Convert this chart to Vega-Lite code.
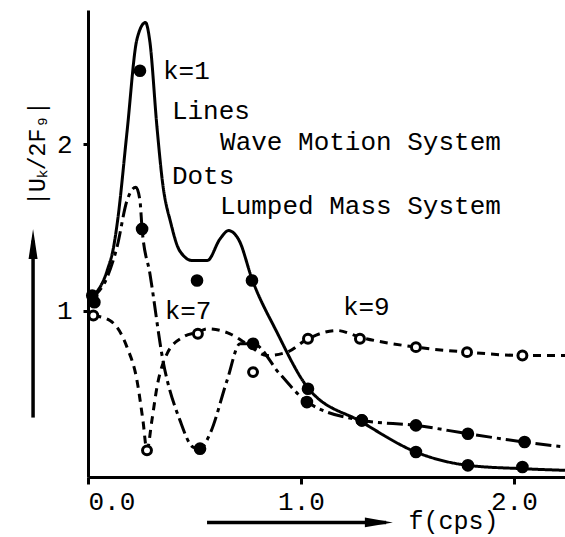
{
  "$schema": "https://vega.github.io/schema/vega-lite/v6.json",
  "width": 477,
  "height": 467,
  "autosize": "none",
  "padding": {"left": 88, "top": 10, "right": 0, "bottom": 60},
  "background": "white",
  "config": {
    "view": {"stroke": null},
    "font": "Liberation Mono",
    "axis": {"grid": false, "domainColor": "black", "domainWidth": 3, "tickColor": "black", "tickWidth": 3, "labelColor": "black", "labelFont": "Liberation Mono", "labelFontSize": 26, "titleFont": "Liberation Mono", "titleFontWeight": "normal", "titleColor": "black"}
  },
  "datasets": {
    "lines": [
      {"k": "k=1", "f": 0.01, "u": 1.07}, {"k": "k=1", "f": 0.09, "u": 1.24}, {"k": "k=1", "f": 0.12, "u": 1.38}, {"k": "k=1", "f": 0.14, "u": 1.55}, {"k": "k=1", "f": 0.183, "u": 2.07}, {"k": "k=1", "f": 0.23, "u": 2.63}, {"k": "k=1", "f": 0.27, "u": 2.73}, {"k": "k=1", "f": 0.29, "u": 2.62}, {"k": "k=1", "f": 0.324, "u": 2.1}, {"k": "k=1", "f": 0.35, "u": 1.77}, {"k": "k=1", "f": 0.39, "u": 1.52}, {"k": "k=1", "f": 0.43, "u": 1.36}, {"k": "k=1", "f": 0.49, "u": 1.3}, {"k": "k=1", "f": 0.56, "u": 1.3}, {"k": "k=1", "f": 0.62, "u": 1.43}, {"k": "k=1", "f": 0.66, "u": 1.48}, {"k": "k=1", "f": 0.71, "u": 1.42}, {"k": "k=1", "f": 0.77, "u": 1.19}, {"k": "k=1", "f": 0.887, "u": 0.87}, {"k": "k=1", "f": 1.03, "u": 0.54}, {"k": "k=1", "f": 1.286, "u": 0.33}, {"k": "k=1", "f": 1.54, "u": 0.15}, {"k": "k=1", "f": 1.784, "u": 0.07}, {"k": "k=1", "f": 2.04, "u": 0.05}, {"k": "k=1", "f": 2.24, "u": 0.04},
      {"k": "k=7", "f": 0.01, "u": 1.07}, {"k": "k=7", "f": 0.09, "u": 1.2}, {"k": "k=7", "f": 0.136, "u": 1.38}, {"k": "k=7", "f": 0.183, "u": 1.66}, {"k": "k=7", "f": 0.225, "u": 1.74}, {"k": "k=7", "f": 0.244, "u": 1.66}, {"k": "k=7", "f": 0.254, "u": 1.49}, {"k": "k=7", "f": 0.291, "u": 1.22}, {"k": "k=7", "f": 0.352, "u": 0.7}, {"k": "k=7", "f": 0.432, "u": 0.34}, {"k": "k=7", "f": 0.493, "u": 0.18}, {"k": "k=7", "f": 0.526, "u": 0.17}, {"k": "k=7", "f": 0.573, "u": 0.26}, {"k": "k=7", "f": 0.653, "u": 0.58}, {"k": "k=7", "f": 0.714, "u": 0.8}, {"k": "k=7", "f": 0.775, "u": 0.8}, {"k": "k=7", "f": 0.9, "u": 0.62}, {"k": "k=7", "f": 1.03, "u": 0.45}, {"k": "k=7", "f": 1.286, "u": 0.34}, {"k": "k=7", "f": 1.54, "u": 0.31}, {"k": "k=7", "f": 1.784, "u": 0.26}, {"k": "k=7", "f": 2.05, "u": 0.21}, {"k": "k=7", "f": 2.24, "u": 0.18},
      {"k": "k=9", "f": 0.025, "u": 0.97}, {"k": "k=9", "f": 0.103, "u": 0.94}, {"k": "k=9", "f": 0.183, "u": 0.78}, {"k": "k=9", "f": 0.23, "u": 0.58}, {"k": "k=9", "f": 0.258, "u": 0.34}, {"k": "k=9", "f": 0.277, "u": 0.16}, {"k": "k=9", "f": 0.3, "u": 0.34}, {"k": "k=9", "f": 0.324, "u": 0.54}, {"k": "k=9", "f": 0.371, "u": 0.74}, {"k": "k=9", "f": 0.446, "u": 0.84}, {"k": "k=9", "f": 0.516, "u": 0.87}, {"k": "k=9", "f": 0.559, "u": 0.89}, {"k": "k=9", "f": 0.667, "u": 0.86}, {"k": "k=9", "f": 0.746, "u": 0.8}, {"k": "k=9", "f": 0.84, "u": 0.73}, {"k": "k=9", "f": 0.934, "u": 0.75}, {"k": "k=9", "f": 1.033, "u": 0.83}, {"k": "k=9", "f": 1.169, "u": 0.88}, {"k": "k=9", "f": 1.277, "u": 0.84}, {"k": "k=9", "f": 1.54, "u": 0.78}, {"k": "k=9", "f": 1.78, "u": 0.75}, {"k": "k=9", "f": 2.04, "u": 0.73}, {"k": "k=9", "f": 2.24, "u": 0.73}
    ],
    "dots": [
      {"k": "k=1", "kind": "filled", "f": 0.02, "u": 1.09}, {"k": "k=1", "kind": "filled", "f": 0.244, "u": 2.44}, {"k": "k=1", "kind": "filled", "f": 0.512, "u": 1.18}, {"k": "k=1", "kind": "filled", "f": 0.77, "u": 1.18}, {"k": "k=1", "kind": "filled", "f": 1.033, "u": 0.53}, {"k": "k=1", "kind": "filled", "f": 1.286, "u": 0.34}, {"k": "k=1", "kind": "filled", "f": 1.54, "u": 0.15}, {"k": "k=1", "kind": "filled", "f": 1.784, "u": 0.07}, {"k": "k=1", "kind": "filled", "f": 2.04, "u": 0.06},
      {"k": "k=7", "kind": "filled", "f": 0.03, "u": 1.05}, {"k": "k=7", "kind": "filled", "f": 0.254, "u": 1.49}, {"k": "k=7", "kind": "filled", "f": 0.526, "u": 0.17}, {"k": "k=7", "kind": "filled", "f": 0.775, "u": 0.8}, {"k": "k=7", "kind": "filled", "f": 1.028, "u": 0.45}, {"k": "k=7", "kind": "filled", "f": 1.286, "u": 0.34}, {"k": "k=7", "kind": "filled", "f": 1.54, "u": 0.31}, {"k": "k=7", "kind": "filled", "f": 1.784, "u": 0.26}, {"k": "k=7", "kind": "filled", "f": 2.05, "u": 0.21},
      {"k": "k=9", "kind": "open", "f": 0.025, "u": 0.97}, {"k": "k=9", "kind": "open", "f": 0.277, "u": 0.16}, {"k": "k=9", "kind": "open", "f": 0.516, "u": 0.86}, {"k": "k=9", "kind": "open", "f": 0.775, "u": 0.63}, {"k": "k=9", "kind": "open", "f": 1.033, "u": 0.83}, {"k": "k=9", "kind": "open", "f": 1.277, "u": 0.83}, {"k": "k=9", "kind": "open", "f": 1.54, "u": 0.78}, {"k": "k=9", "kind": "open", "f": 1.78, "u": 0.75}, {"k": "k=9", "kind": "open", "f": 2.04, "u": 0.73}
    ],
    "labels": [
      {"text": "k=1", "f": 0.352, "u": 2.44},
      {"text": "Lines", "f": 0.394, "u": 2.2},
      {"text": "Wave Motion System", "f": 0.62, "u": 2.01},
      {"text": "Dots", "f": 0.394, "u": 1.81},
      {"text": "Lumped Mass System", "f": 0.62, "u": 1.625},
      {"text": "k=7", "f": 0.36, "u": 1.0},
      {"text": "k=9", "f": 1.197, "u": 1.024}
    ]
  },
  "layer": [
    {
      "data": {"name": "lines"},
      "mark": {"type": "line", "interpolate": "monotone", "strokeWidth": 3, "color": "black"},
      "encoding": {
        "x": {"field": "f", "type": "quantitative", "scale": {"domain": [0, 2.24], "nice": false, "zero": false},
              "axis": {"values": [0, 1, 2], "format": ".1f", "tickSize": 7, "labelPadding": 4, "title": "f(cps)", "titleX": 320, "titleY": 43, "titleAlign": "left", "titleBaseline": "middle", "titleFontSize": 25}},
        "y": {"field": "u", "type": "quantitative", "scale": {"domain": [0, 2.805], "nice": false, "zero": false},
              "axis": {"values": [1, 2], "format": "d", "tickSize": 5, "labelPadding": 11, "title": "|Uₖ/2F₉|", "titleX": -51, "titleY": 143, "titleAngle": -90, "titleAlign": "center", "titleBaseline": "middle", "titleFontSize": 23}},
        "strokeDash": {"field": "k", "type": "nominal", "scale": {"domain": ["k=1", "k=7", "k=9"], "range": [[1, 0], [16, 5, 4, 5], [8, 6]]}, "legend": null}
      }
    },
    {
      "data": {"name": "dots"},
      "transform": [{"filter": "datum.kind === 'filled'"}],
      "mark": {"type": "point", "filled": true, "color": "black", "size": 160, "opacity": 1},
      "encoding": {
        "x": {"field": "f", "type": "quantitative"},
        "y": {"field": "u", "type": "quantitative"}
      }
    },
    {
      "data": {"name": "dots"},
      "transform": [{"filter": "datum.kind === 'open'"}],
      "mark": {"type": "point", "filled": false, "fill": "white", "fillOpacity": 1, "stroke": "black", "strokeWidth": 3, "size": 80, "opacity": 1},
      "encoding": {
        "x": {"field": "f", "type": "quantitative"},
        "y": {"field": "u", "type": "quantitative"}
      }
    },
    {
      "data": {"name": "labels"},
      "mark": {"type": "text", "align": "left", "baseline": "middle", "font": "Liberation Mono", "fontSize": 26, "color": "black"},
      "encoding": {
        "x": {"field": "f", "type": "quantitative"},
        "y": {"field": "u", "type": "quantitative"},
        "text": {"field": "text"}
      }
    },
    {
      "data": {"values": [{}]},
      "mark": {"type": "rule", "strokeWidth": 3.5, "color": "black"},
      "encoding": {"x": {"datum": 0.559}, "x2": {"datum": 1.4}, "y": {"datum": -0.273}}
    },
    {
      "data": {"values": [{}]},
      "mark": {"type": "point", "filled": true, "color": "black", "opacity": 1, "size": 784, "shape": "M-1,-0.35L1,0L-1,0.35Z"},
      "encoding": {"x": {"datum": 1.366}, "y": {"datum": -0.273}}
    },
    {
      "data": {"values": [{}]},
      "mark": {"type": "rule", "strokeWidth": 3.5, "color": "black"},
      "encoding": {"x": {"datum": -0.258}, "y": {"datum": 0.357}, "y2": {"datum": 1.42}}
    },
    {
      "data": {"values": [{}]},
      "mark": {"type": "point", "filled": true, "color": "black", "opacity": 1, "size": 900, "shape": "M-0.3,1L0,-1L0.3,1Z"},
      "encoding": {"x": {"datum": -0.258}, "y": {"datum": 1.4}}
    }
  ]
}
